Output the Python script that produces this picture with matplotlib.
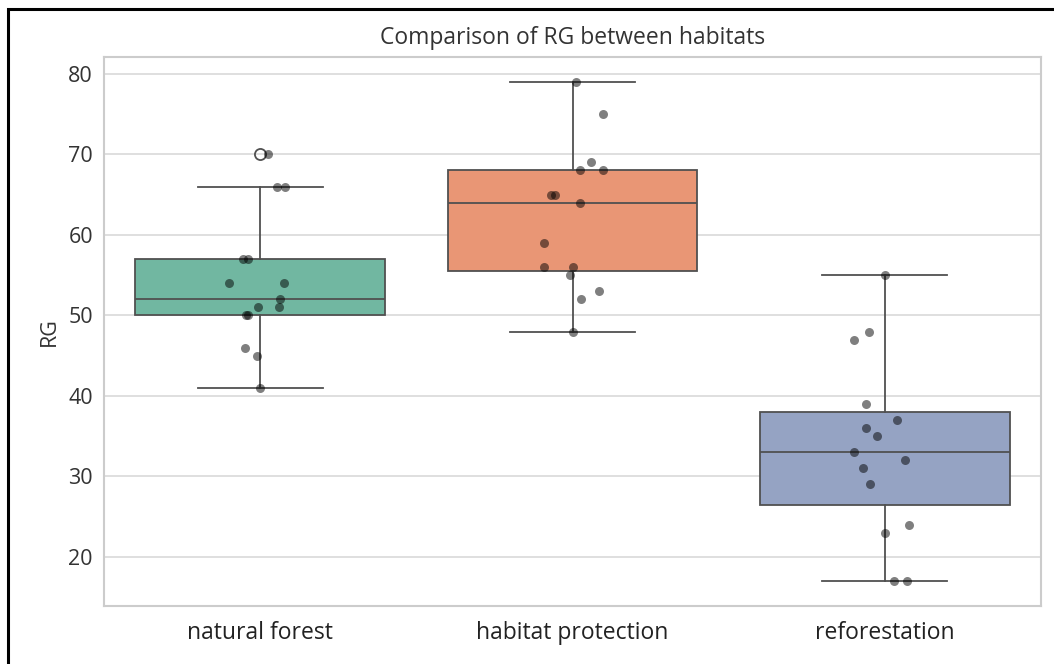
import numpy as np
import matplotlib
matplotlib.use("Agg")
import matplotlib.pyplot as plt
from matplotlib.patches import Rectangle

plt.rcParams['font.family'] = ['Open Sans', 'DejaVu Sans']

# RG values per habitat
habitats = ["natural forest", "habitat protection", "reforestation"]
natural_forest = [70, 66, 66, 57, 57, 54, 54, 52, 51, 51, 50, 50, 46, 45, 41]
habitat_protection = [79, 75, 69, 68, 68, 65, 65, 64, 59, 56, 56, 55, 53, 52, 48]
reforestation = [55, 48, 47, 39, 37, 36, 35, 33, 32, 31, 29, 24, 23, 17, 17]

# Set2, desaturated the way seaborn boxes are
box_colors = ["#71b7a1", "#e99675", "#95a3c3"]
line_gray = "#505050"

groups = [natural_forest, habitat_protection, reforestation]

fig = plt.figure(figsize=(10.54, 6.64), dpi=100)
ax = fig.add_axes([0.0987, 0.0873, 0.889, 0.8269])
ax.set_facecolor("white")

bp = ax.boxplot(groups, positions=range(3), widths=0.8, patch_artist=True,
                medianprops=dict(color=line_gray, linewidth=1.3),
                whiskerprops=dict(color=line_gray, linewidth=1.3),
                capprops=dict(color=line_gray, linewidth=1.3),
                boxprops=dict(edgecolor=line_gray, linewidth=1.3),
                flierprops=dict(marker='o', markerfacecolor='none',
                                markeredgecolor=line_gray, markersize=8,
                                markeredgewidth=1.3),
                zorder=2)
for patch, c in zip(bp['boxes'], box_colors):
    patch.set_facecolor(c)

# jittered strip of the raw observations
rng = np.random.default_rng(7)
for i, vals in enumerate(groups):
    xs = i + rng.uniform(-0.1, 0.1, len(vals))
    ax.scatter(xs, vals, s=42, color='black', alpha=0.5, linewidths=0, zorder=3)

ax.set_xlim(-0.5, 2.5)
lo = min(min(g) for g in groups)
hi = max(max(g) for g in groups)
pad = (hi - lo) * 0.05
ax.set_ylim(lo - pad, hi + pad)
ax.set_yticks([20, 30, 40, 50, 60, 70, 80])
ax.set_xticks(range(3))
ax.set_xticklabels(habitats, fontsize=16.5, color="#222222")
ax.tick_params(axis='y', labelsize=15.5, labelcolor="#333333", length=0, pad=8)
ax.tick_params(axis='x', length=0, pad=11)
ax.yaxis.grid(True, color="#d9d9d9", linewidth=1.2, zorder=0)
ax.set_axisbelow(True)
for sp in ax.spines.values():
    sp.set_color("#cccccc")
    sp.set_linewidth(1.5)

ax.set_ylabel("RG", fontsize=15.5, color="#333333", labelpad=6)
ax.set_title("Comparison of RG between habitats", fontsize=16.5,
             color="#333333", pad=9)

# outer frame around the figure
fig.add_artist(Rectangle((8 / 1054, -0.05), 1.1, 1 - 9 / 664 + 0.05,
                         transform=fig.transFigure, fill=False,
                         edgecolor='black', linewidth=2.2))

fig.savefig("out.png", dpi=100)
